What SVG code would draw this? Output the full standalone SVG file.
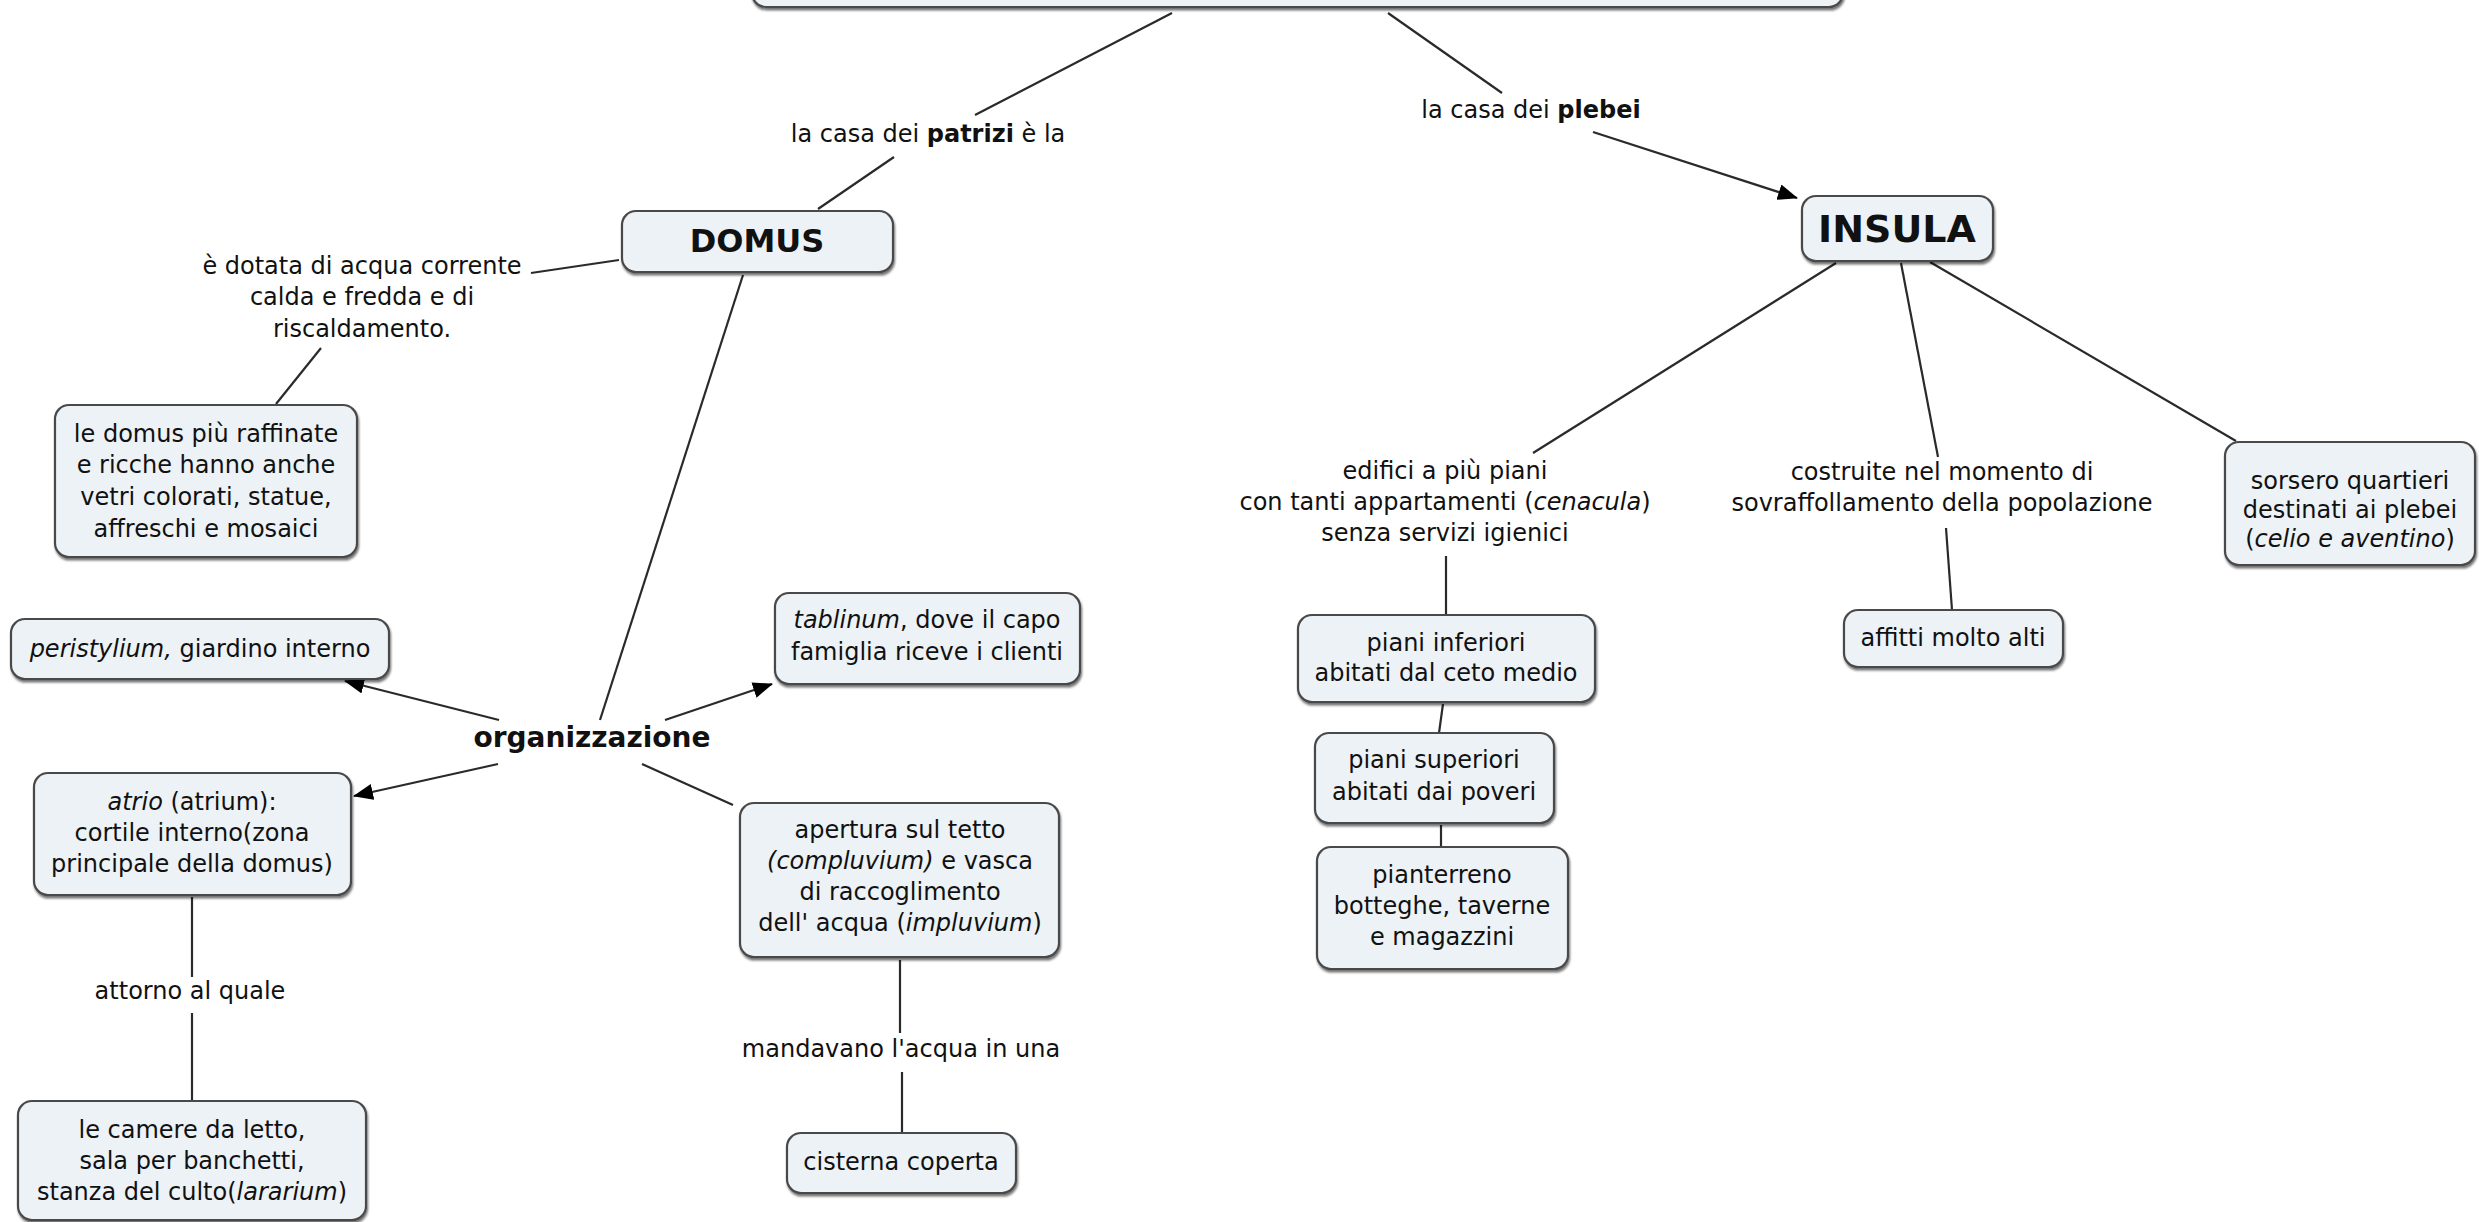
<svg xmlns="http://www.w3.org/2000/svg" width="2479" height="1222" viewBox="0 0 2479 1222">
<style>
.box{fill:#ECF2F6;stroke:#4a4a4a;stroke-width:2.2;filter:url(#sh)}
text{font-family:"DejaVu Sans",Verdana,sans-serif;font-size:24px;fill:#111;text-anchor:middle}
.b{font-weight:bold}
.i{font-style:italic}
.ln{stroke:#2a2a2a;stroke-width:2.2;fill:none}
.ar{marker-end:url(#arr)}
</style>
<defs>
<filter id="sh" x="-5%" y="-5%" width="110%" height="120%">
<feDropShadow dx="1" dy="2.5" stdDeviation="0.8" flood-color="#000" flood-opacity="0.55"/>
</filter>
<marker id="arr" viewBox="0 0 20 16" refX="19" refY="8" markerWidth="20" markerHeight="16" markerUnits="userSpaceOnUse" orient="auto">
<path d="M0,0 L20,8 L0,16 z" fill="#000"/>
</marker>
</defs>
<rect width="2479" height="1222" fill="#fff"/>

<g id="connectors">
<line class="ln" x1="1172" y1="13" x2="975" y2="115"/>
<line class="ln" x1="894" y1="157" x2="818" y2="209"/>
<line class="ln" x1="1388" y1="13" x2="1502" y2="93"/>
<line class="ln ar" x1="1593" y1="132" x2="1797" y2="198"/>
<line class="ln" x1="619" y1="260" x2="531" y2="273"/>
<line class="ln" x1="321" y1="348" x2="276" y2="404"/>
<line class="ln" x1="743" y1="275" x2="600" y2="720"/>
<line class="ln ar" x1="499" y1="720" x2="345" y2="681"/>
<line class="ln ar" x1="665" y1="720" x2="772" y2="684"/>
<line class="ln ar" x1="498" y1="764" x2="354" y2="796"/>
<line class="ln" x1="642" y1="764" x2="733" y2="805"/>
<line class="ln" x1="192" y1="897" x2="192" y2="977"/>
<line class="ln" x1="192" y1="1013" x2="192" y2="1101"/>
<line class="ln" x1="900" y1="960" x2="900" y2="1033"/>
<line class="ln" x1="902" y1="1072" x2="902" y2="1133"/>
<line class="ln" x1="1836" y1="263" x2="1533" y2="453"/>
<line class="ln" x1="1901" y1="263" x2="1938" y2="457"/>
<line class="ln" x1="1930" y1="262" x2="2236" y2="441"/>
<line class="ln" x1="1446" y1="556" x2="1446" y2="615"/>
<line class="ln" x1="1946" y1="528" x2="1952" y2="610"/>
<line class="ln" x1="1443" y1="704" x2="1439" y2="733"/>
<line class="ln" x1="1441" y1="825" x2="1441" y2="847"/>
</g>

<g id="link-labels">
<text x="928" y="142">la casa dei <tspan class="b">patrizi</tspan> è la</text>
<text x="1531" y="118">la casa dei <tspan class="b">plebei</tspan></text>
<text x="362" y="274">è dotata di acqua corrente</text>
<text x="362" y="305">calda e fredda e di</text>
<text x="362" y="337">riscaldamento.</text>
<text x="592" y="747" class="b" style="font-size:28px">organizzazione</text>
<text x="190" y="999">attorno al quale</text>
<text x="901" y="1057">mandavano l'acqua in una</text>
<text x="1445" y="479">edifici a più piani</text>
<text x="1445" y="510">con tanti appartamenti (<tspan class="i">cenacula</tspan>)</text>
<text x="1445" y="541">senza servizi igienici</text>
<text x="1942" y="480">costruite nel momento di</text>
<text x="1942" y="511">sovraffollamento della popolazione</text>
</g>

<g id="node-top"><rect class="box" x="752" y="-60" width="1091" height="67" rx="14"/></g>

<g id="node-domus"><rect class="box" x="622" y="211" width="271" height="61" rx="14"/>
<text x="757" y="252" class="b" style="font-size:32px">DOMUS</text></g>

<g id="node-insula"><rect class="box" x="1802" y="196" width="191" height="65" rx="14"/>
<text x="1897" y="242" class="b" style="font-size:38px">INSULA</text></g>

<g id="node-ledomus"><rect class="box" x="55" y="405" width="302" height="152" rx="14"/>
<text x="206" y="442">le domus più raffinate</text>
<text x="206" y="473">e ricche hanno anche</text>
<text x="206" y="505">vetri colorati, statue,</text>
<text x="206" y="537">affreschi e mosaici</text></g>

<g id="node-peristylium"><rect class="box" x="11" y="619" width="378" height="60" rx="14"/>
<text x="200" y="657"><tspan class="i">peristylium,</tspan> giardino interno</text></g>

<g id="node-tablinum"><rect class="box" x="775" y="593" width="305" height="91" rx="14"/>
<text x="927" y="628"><tspan class="i">tablinum</tspan>, dove il capo</text>
<text x="927" y="660">famiglia riceve i clienti</text></g>

<g id="node-atrio"><rect class="box" x="34" y="773" width="317" height="122" rx="14"/>
<text x="192" y="810"><tspan class="i">atrio</tspan> (atrium):</text>
<text x="192" y="841">cortile interno(zona</text>
<text x="192" y="872">principale della domus)</text></g>

<g id="node-camere"><rect class="box" x="18" y="1101" width="348" height="119" rx="14"/>
<text x="192" y="1138">le camere da letto,</text>
<text x="192" y="1169">sala per banchetti,</text>
<text x="192" y="1200">stanza del culto(<tspan class="i">lararium</tspan>)</text></g>

<g id="node-apertura"><rect class="box" x="740" y="803" width="319" height="154" rx="14"/>
<text x="900" y="838">apertura sul tetto</text>
<text x="900" y="869"><tspan class="i">(compluvium)</tspan> e vasca</text>
<text x="900" y="900">di raccoglimento</text>
<text x="900" y="931">dell' acqua (<tspan class="i">impluvium</tspan>)</text></g>

<g id="node-cisterna"><rect class="box" x="787" y="1133" width="229" height="60" rx="14"/>
<text x="901" y="1170">cisterna coperta</text></g>

<g id="node-inferiori"><rect class="box" x="1298" y="615" width="297" height="87" rx="14"/>
<text x="1446" y="651">piani inferiori</text>
<text x="1446" y="681">abitati dal ceto medio</text></g>

<g id="node-superiori"><rect class="box" x="1315" y="733" width="239" height="90" rx="14"/>
<text x="1434" y="768">piani superiori</text>
<text x="1434" y="800">abitati dai poveri</text></g>

<g id="node-pianterreno"><rect class="box" x="1317" y="847" width="251" height="122" rx="14"/>
<text x="1442" y="883">pianterreno</text>
<text x="1442" y="914">botteghe, taverne</text>
<text x="1442" y="945">e magazzini</text></g>

<g id="node-affitti"><rect class="box" x="1844" y="610" width="219" height="57" rx="14"/>
<text x="1953" y="646">affitti molto alti</text></g>

<g id="node-sorsero"><rect class="box" x="2225" y="442" width="250" height="123" rx="14"/>
<text x="2350" y="489">sorsero quartieri</text>
<text x="2350" y="518">destinati ai plebei</text>
<text x="2350" y="547">(<tspan class="i">celio e aventino</tspan>)</text></g>
</svg>
